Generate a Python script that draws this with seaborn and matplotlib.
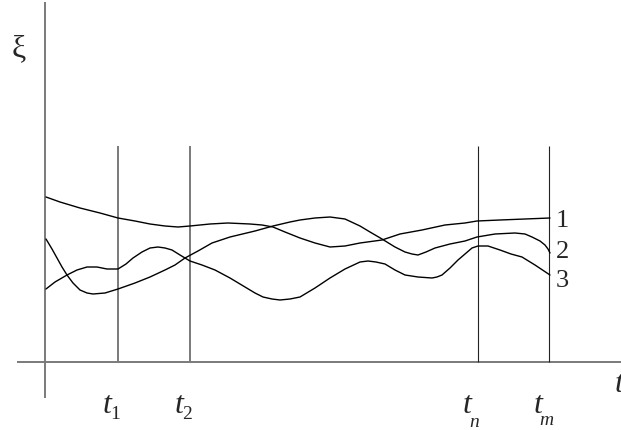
import numpy as np
import pandas as pd
import matplotlib
matplotlib.use("Agg")
import matplotlib.pyplot as plt
import seaborn as sns

# ---- data (t along the time axis, xi = process value) ----
t1_vals = [1, 15, 35, 55, 73, 90, 105, 120, 133, 145, 165, 183, 205, 217, 228, 240, 255,
           270, 285, 300, 315, 337, 355, 377, 400, 420, 432, 455, 480, 505]
xi1_vals = [165, 160, 154, 149, 144, 141, 138, 136, 135, 136, 138, 139, 138, 137, 135, 130, 124,
            119, 115, 116, 119, 122, 128, 132, 137, 139, 141, 142, 143, 144]

t2_vals = [1, 7, 12, 17, 22, 28, 35, 42, 48, 60, 73, 90, 105, 120, 130, 140, 153, 167, 185, 210,
           228, 245, 255, 270, 285, 300, 315, 325, 337, 350, 360, 367, 373, 381, 390, 405, 420,
           432, 450, 470, 480, 487, 495, 500, 503, 505]
xi2_vals = [123, 113, 104, 95, 87, 79, 72, 69, 68, 69, 73, 79, 85, 92, 97, 104, 111, 119, 125, 131,
            136, 140, 142, 144, 145, 143, 136, 130, 123, 115, 110, 108, 107, 110, 114, 118, 121,
            125, 128, 129, 128, 125, 121, 117, 113, 109]

t3_vals = [1, 10, 22, 32, 42, 52, 62, 73, 81, 88, 97, 105, 113, 120, 127, 135, 145, 157, 170, 185,
           200, 210, 218, 227, 235, 245, 255, 270, 285, 300, 315, 323, 331, 340, 350, 360, 373,
           387, 392, 397, 405, 413, 420, 427, 433, 443, 455, 466, 477, 490, 505]
xi3_vals = [73, 80, 87, 92, 95, 95, 93, 93, 98, 104, 110, 114, 115, 114, 112, 107, 101, 97, 92, 84,
            75, 69, 65, 63, 62, 63, 65, 74, 84, 93, 100, 101, 100, 98, 92, 87, 85,
            84, 85, 87, 94, 102, 108, 114, 116, 116, 112, 108, 105, 97, 87]

curve_names = ["1", "2", "3"]
marker_times = [73, 145, 433, 504]
marker_main = ["t", "t", "t", "t"]
marker_sub = ["1", "2", "n", "m"]
marker_top = 216

# ---- build long table ----
frames = []
for name, tv, xv in zip(curve_names, [t1_vals, t2_vals, t3_vals], [xi1_vals, xi2_vals, xi3_vals]):
    frames.append(pd.DataFrame({"t": tv, "xi": xv, "curve": name}))
df = pd.concat(frames, ignore_index=True)

sns.set_theme(style="white")
plt.rcParams["font.family"] = ["Liberation Serif", "DejaVu Serif"]

fig = plt.figure(figsize=(6.21, 4.30), dpi=100)
ax = fig.add_axes([0, 0, 1, 1])
ax.set_xlim(-45, 576)
ax.set_ylim(-68, 362)
ax.axis("off")

# axes
ax.hlines(0, -28, 576, color="#7a7a7a", lw=1.4)
ax.vlines(0, -36, 360, color="#7a7a7a", lw=1.4)

# time markers
ax.vlines(marker_times[:2], 0, marker_top, color="#7a7a7a", lw=1.4)
ax.vlines(marker_times[2:], 0, marker_top, color="#222222", lw=0.8)

sns.lineplot(data=df, x="t", y="xi", hue="curve", units="curve", estimator=None, sort=False,
             palette=["black", "black", "black"], lw=1.0, legend=False, ax=ax)

# marker labels
sub_off = [(8, -6), (8, -6), (7, -14), (8, -12)]
sub_style = ["normal", "normal", "italic", "italic"]
for tm, m, s, (dx, dy), st in zip(marker_times, marker_main, marker_sub, sub_off, sub_style):
    ax.text(tm - 11, -51, m, fontsize=23, style="italic", ha="center", va="baseline")
    ax.text(tm - 11 + dx, -51 + dy, s, fontsize=14, style=st, ha="center", va="baseline")

# curve labels
for name, y in zip(curve_names, [135, 104, 75]):
    ax.text(511, y, name, fontsize=19, ha="left", va="baseline")

# axis labels
ax.text(-26, 306, "ξ", fontsize=23, ha="center", va="baseline")
ax.text(570, -30, "t", fontsize=23, style="italic", ha="left", va="baseline")

fig.savefig("out.png", dpi=100)
